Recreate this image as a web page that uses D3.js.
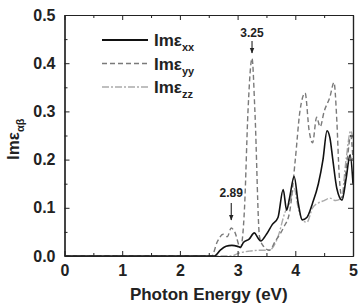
<!DOCTYPE html>
<html><head><meta charset="utf-8">
<script src="https://cdn.jsdelivr.net/npm/d3@7"></script>
<style>body{margin:0;background:#fff}svg{display:block;font-family:"Liberation Sans",Arial,sans-serif}</style>
</head><body><svg id="c" width="360" height="304"></svg>
<script>
const xxE=[0,2.6,2.7,2.8,2.9,3.0,3.05,3.1,3.2,3.29,3.35,3.4,3.5,3.6,3.7,3.79,3.85,3.9,3.98,4.05,4.12,4.2,4.3,4.4,4.48,4.55,4.6,4.65,4.72,4.81,4.88,4.95,5.0];
const xxV=[0,0,0.012,0.02,0.022,0.02,0.018,0.028,0.035,0.048,0.038,0.031,0.045,0.065,0.08,0.138,0.095,0.12,0.165,0.11,0.075,0.08,0.11,0.15,0.2,0.26,0.245,0.2,0.14,0.116,0.16,0.21,0.15];
const yyE=[0,2.55,2.65,2.75,2.82,2.89,2.95,3.05,3.12,3.18,3.25,3.3,3.38,3.45,3.55,3.65,3.8,3.9,4.0,4.08,4.17,4.24,4.3,4.37,4.43,4.5,4.6,4.67,4.72,4.76,4.81,4.9,4.96,5.0];
const yyV=[0,0,0.03,0.045,0.04,0.058,0.05,0.017,0.1,0.3,0.41,0.3,0.04,0.02,0.012,0.03,0.06,0.09,0.2,0.3,0.338,0.26,0.235,0.288,0.268,0.3,0.33,0.36,0.28,0.17,0.12,0.2,0.25,0.2];
const zzE=[0,2.9,3.0,3.2,3.4,3.55,3.7,3.82,3.9,3.98,4.05,4.12,4.2,4.3,4.4,4.5,4.6,4.7,4.8,4.88,4.96,5.0];
const zzV=[0,0,0.005,0.01,0.012,0.012,0.04,0.09,0.11,0.14,0.1,0.075,0.07,0.1,0.11,0.115,0.12,0.115,0.12,0.2,0.26,0.24];
const xTicks=[0,1,2,3,4,5];
const yTicks=[0.0,0.1,0.2,0.3,0.4,0.5];
const legendSubs=["xx","yy","zz"];
const notes=[{e:3.25,label:"3.25"},{e:2.89,label:"2.89"}];

const svg=d3.select("#c");
const L=64.5,R=353,T=15,B=256;
const x=d3.scaleLinear().domain([0,5]).range([L,R]);
const y=d3.scaleLinear().domain([0,0.5]).range([B,T]);
const line=d3.line().x(d=>x(d[0])).y(d=>y(d[1])).curve(d3.curveMonotoneX);

const series=[
 {E:xxE,V:xxV,color:"#111",dash:null,w:1.6},
 {E:yyE,V:yyV,color:"#7a7a7a",dash:"5,3",w:1.4},
 {E:zzE,V:zzV,color:"#aaaaaa",dash:"7,2,2,2",w:1.4}
];
const clip=svg.append("clipPath").attr("id","cp").append("rect").attr("x",L).attr("y",T).attr("width",R-L).attr("height",B-T);
const g=svg.append("g").attr("clip-path","url(#cp)");
series.slice().reverse().forEach(s=>{
  g.append("path").datum(s.E.map((e,i)=>[e,s.V[i]])).attr("d",line)
   .attr("fill","none").attr("stroke",s.color).attr("stroke-width",s.w)
   .attr("stroke-dasharray",s.dash);
});

// axes
const ax=(axis,tr)=>svg.append("g").attr("transform",tr).call(axis);
const styleAx=g=>{g.select(".domain").attr("stroke","#222").attr("stroke-width",1.2);g.selectAll(".tick line").attr("stroke","#222").attr("stroke-width",1);};
const bx=ax(d3.axisBottom(x).tickValues(xTicks).tickSizeInner(-5).tickSizeOuter(0).tickPadding(9).tickFormat(d3.format("d")),`translate(0,${B})`);
styleAx(bx);
bx.selectAll("text").attr("font-size",16).attr("font-weight","bold").attr("fill","#222");
const bxm=ax(d3.axisBottom(x).tickValues(d3.range(0.5,5,1)).tickSizeInner(-3).tickSizeOuter(0).tickFormat(""),`translate(0,${B})`);styleAx(bxm);
const tx=ax(d3.axisTop(x).tickValues(xTicks).tickSizeInner(-5).tickSizeOuter(0).tickFormat(""),`translate(0,${T})`);styleAx(tx);
const txm=ax(d3.axisTop(x).tickValues(d3.range(0.5,5,1)).tickSizeInner(-3).tickSizeOuter(0).tickFormat(""),`translate(0,${T})`);styleAx(txm);
const ly=ax(d3.axisLeft(y).tickValues(yTicks).tickSizeInner(-5).tickSizeOuter(0).tickPadding(9).tickFormat(d3.format(".1f")),`translate(${L},0)`);
styleAx(ly);
ly.selectAll("text").attr("font-size",16).attr("font-weight","bold").attr("fill","#222");
const lym=ax(d3.axisLeft(y).tickValues(d3.range(0.05,0.5,0.1)).tickSizeInner(-3).tickSizeOuter(0).tickFormat(""),`translate(${L},0)`);styleAx(lym);
const ry=ax(d3.axisRight(y).tickValues(yTicks).tickSizeInner(-5).tickSizeOuter(0).tickFormat(""),`translate(${R},0)`);styleAx(ry);
const rym=ax(d3.axisRight(y).tickValues(d3.range(0.05,0.5,0.1)).tickSizeInner(-3).tickSizeOuter(0).tickFormat(""),`translate(${R},0)`);styleAx(rym);

// titles
svg.append("text").attr("x",(L+R)/2).attr("y",300).attr("text-anchor","middle")
 .attr("font-size",17).attr("font-weight","bold").attr("fill","#222").text("Photon Energy (eV)");
const yt=svg.append("text").attr("transform","translate(19,160) rotate(-90)").attr("font-size",17).attr("font-weight","bold").attr("fill","#222");
yt.append("tspan").text("Imε");
yt.append("tspan").attr("dy",5).attr("font-size",11).text("αβ");

// legend
legendSubs.forEach((s,i)=>{
  const yy0=40+i*23.5;
  svg.append("line").attr("x1",102).attr("x2",148).attr("y1",yy0).attr("y2",yy0)
   .attr("stroke",series[i].color).attr("stroke-width",series[i].w+0.2).attr("stroke-dasharray",series[i].dash);
  const t=svg.append("text").attr("x",154).attr("y",yy0+6).attr("font-size",17).attr("font-weight","bold").attr("fill","#222");
  t.append("tspan").text("Imε");
  t.append("tspan").attr("dy",5).attr("font-size",11).text(s);
});

// annotations
svg.append("defs").append("marker").attr("id","ah").attr("viewBox","0 0 10 10").attr("refX",9).attr("refY",5)
 .attr("markerWidth",5).attr("markerHeight",5).attr("orient","auto")
 .append("path").attr("d","M0,1L10,5L0,9Z").attr("fill","#222");
const noteY=[{ty:37,a1:41,a2:53},{ty:197,a1:203,a2:220}];
notes.forEach((n,i)=>{
  svg.append("text").attr("x",x(n.e)).attr("y",noteY[i].ty).attr("text-anchor","middle")
   .attr("font-size",12).attr("font-weight","bold").attr("fill","#222").text(n.label);
  svg.append("line").attr("x1",x(n.e)).attr("x2",x(n.e)).attr("y1",noteY[i].a1).attr("y2",noteY[i].a2)
   .attr("stroke","#222").attr("stroke-width",1.1).attr("marker-end","url(#ah)");
});
</script></body></html>
